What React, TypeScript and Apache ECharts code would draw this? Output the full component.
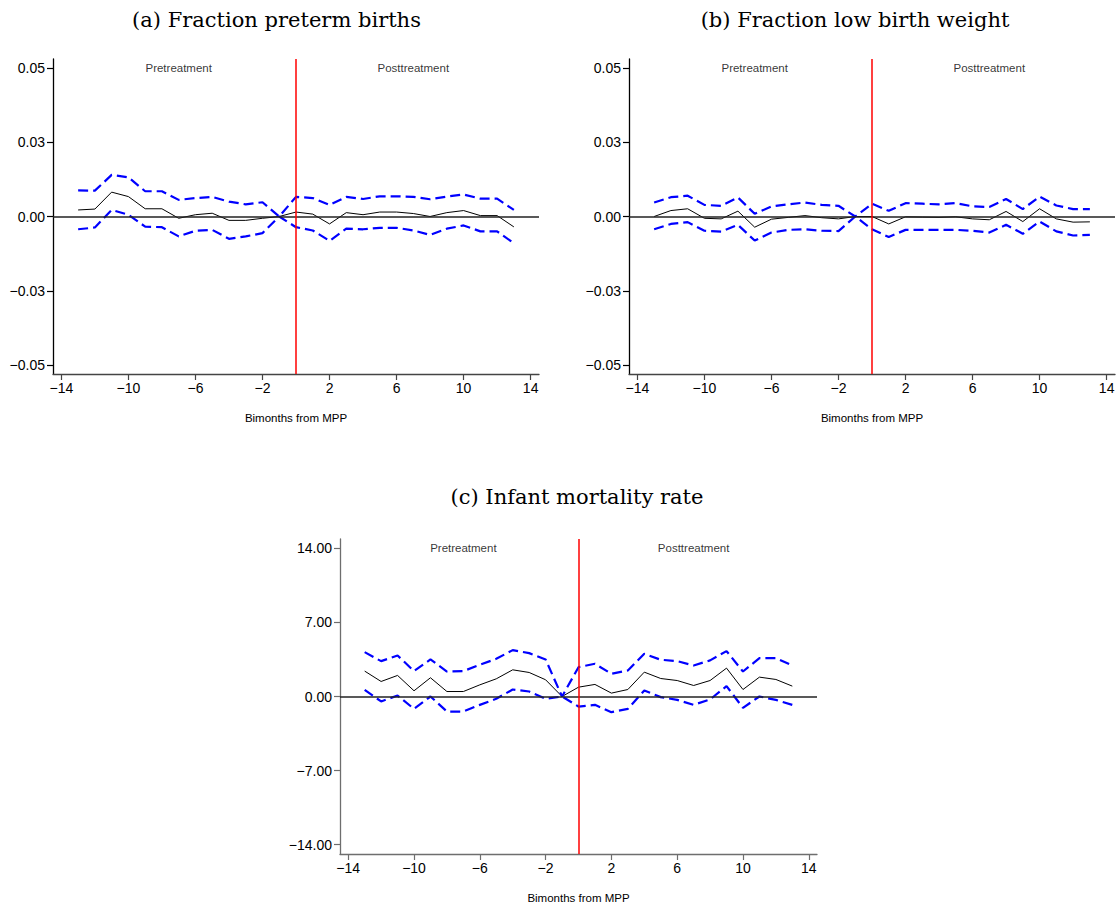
import React, { useEffect, useRef } from "react";
import * as echarts from "echarts";

const bimonths = [-13, -12, -11, -10, -9, -8, -7, -6, -5, -4, -3, -2, -1, 0, 1, 2, 3, 4, 5, 6, 7, 8, 9, 10, 11, 12, 13];

const pretermEst = [0.0022, 0.0025, 0.0082, 0.0067, 0.0026, 0.0026, -0.0006, 0.0006, 0.0011, -0.0013, -0.0013, -0.0006, 0, 0.0015, 0.0008, -0.0025, 0.0013, 0.0006, 0.0015, 0.0015, 0.001, 0, 0.0013, 0.002, 0.0003, 0.0003, -0.0035];
const pretermUpper = [0.0088, 0.0087, 0.014, 0.0132, 0.0085, 0.0085, 0.0056, 0.0062, 0.0066, 0.005, 0.0041, 0.0048, 0, 0.0066, 0.0062, 0.0039, 0.0066, 0.0059, 0.0068, 0.0068, 0.0066, 0.0058, 0.0067, 0.0074, 0.006, 0.006, 0.0022];
const pretermLower = [-0.0043, -0.0037, 0.0022, 0.0006, -0.0034, -0.0036, -0.0067, -0.0048, -0.0045, -0.0075, -0.0067, -0.0056, 0, -0.0036, -0.0047, -0.0082, -0.0041, -0.0043, -0.0038, -0.0038, -0.0047, -0.0062, -0.0041, -0.003, -0.005, -0.005, -0.009];

const lbwEst = [0, 0.002, 0.0026, -0.0006, -0.0008, 0.0018, -0.0036, -0.0009, -0.0003, 0.0003, -0.0004, -0.0008, 0, 0, -0.0025, -0.0001, -0.0002, -0.0003, -0.0001, -0.0008, -0.0011, 0.0017, -0.0017, 0.0026, -0.0008, -0.0019, -0.0018];
const lbwUpper = [0.0047, 0.0065, 0.007, 0.0039, 0.0036, 0.0064, 0.0009, 0.0034, 0.0041, 0.0047, 0.0039, 0.0036, 0, 0.0043, 0.0019, 0.0045, 0.0043, 0.0041, 0.0045, 0.0034, 0.0032, 0.0059, 0.0025, 0.0067, 0.0037, 0.0025, 0.0025];
const lbwLower = [-0.0043, -0.0025, -0.0019, -0.0048, -0.0051, -0.0028, -0.0081, -0.0054, -0.0045, -0.0043, -0.0048, -0.0049, 0, -0.0043, -0.0069, -0.0045, -0.0045, -0.0045, -0.0045, -0.0048, -0.0054, -0.0028, -0.0058, -0.0017, -0.005, -0.0064, -0.0062];

const imrEst = [2.4, 1.42, 1.99, 0.54, 1.77, 0.47, 0.47, 1.1, 1.67, 2.52, 2.27, 1.58, 0, 0.88, 1.14, 0.32, 0.66, 2.3, 1.7, 1.51, 1.04, 1.51, 2.68, 0.66, 1.83, 1.61, 0.98];
const imrUpper = [4.19, 3.34, 3.88, 2.4, 3.5, 2.36, 2.4, 3.0, 3.56, 4.38, 4.1, 3.5, 0, 2.77, 3.09, 2.14, 2.46, 4.04, 3.47, 3.34, 2.93, 3.41, 4.29, 2.36, 3.63, 3.63, 2.93];
const imrLower = [0.63, -0.47, 0.09, -1.17, 0, -1.42, -1.42, -0.79, -0.22, 0.66, 0.47, -0.22, 0, -0.95, -0.79, -1.48, -1.17, 0.57, -0.06, -0.32, -0.79, -0.28, 0.98, -1.07, 0, -0.32, -0.79];

const xTicks = [-14, -10, -6, -2, 2, 6, 10, 14];
const fracTicks = [-0.05, -0.025, 0, 0.025, 0.05];
const imrTicks = [-14, -7, 0, 7, 14];

const annotationLabels = ["Pretreatment", "Posttreatment"];
const annotationX = [-7, 7];
const panelTitles = ["(a) Fraction preterm births", "(b) Fraction low birth weight", "(c) Infant mortality rate"];
const xAxisTitle = "Bimonths from MPP";

const fmt = (v: number) => {
  const s = v.toFixed(2);
  return s.replace("-", "\u2212");
};

export default function App() {
  const ref = useRef<HTMLDivElement>(null);
  useEffect(() => {
    if (!ref.current) return;
    const chart = echarts.init(ref.current, null, { renderer: "svg" });
    const sans = "Liberation Sans, Arial, sans-serif";
    const panels = [
      { est: pretermEst, up: pretermUpper, lo: pretermLower, ticks: fracTicks, lim: 0.053, annY: 0.05, axisCol: "#000", xCol: "#444",
        grid: { left: 53, top: 59, width: 486, height: 315 } },
      { est: lbwEst, up: lbwUpper, lo: lbwLower, ticks: fracTicks, lim: 0.053, annY: 0.05, axisCol: "#000", xCol: "#444",
        grid: { left: 629, top: 59, width: 486, height: 315 } },
      { est: imrEst, up: imrUpper, lo: imrLower, ticks: imrTicks, lim: 14.88, annY: 14, axisCol: "#6e6e6e", xCol: "#6e6e6e",
        grid: { left: 340, top: 539, width: 477, height: 315 } },
    ];
    const grids: any[] = [];
    const xAxes: any[] = [];
    const yAxes: any[] = [];
    const series: any[] = [];
    panels.forEach((p, i) => {
      grids.push({ ...p.grid, outerBoundsMode: "none", containLabel: false });
      xAxes.push({
        gridIndex: i, type: "value", min: -14.5, max: 14.5,
        axisLine: { show: true, onZero: false, lineStyle: { color: p.xCol, width: 1.3 } },
        axisTick: { show: true, length: 6, customValues: xTicks, lineStyle: { color: p.xCol, width: 1.2 } },
        axisLabel: { show: true, customValues: xTicks, margin: 7, fontFamily: sans, fontSize: 14, color: "#000",
          formatter: (v: number) => String(v).replace("-", "\u2212") },
        splitLine: { show: false },
        name: xAxisTitle, nameLocation: "middle", nameGap: 38,
        nameTextStyle: { fontFamily: sans, fontSize: 11.5, color: "#000" },
      });
      yAxes.push({
        gridIndex: i, type: "value", min: -p.lim, max: p.lim,
        axisLine: { show: true, onZero: false, lineStyle: { color: p.axisCol, width: 1.3 } },
        axisTick: { show: true, length: 6, customValues: p.ticks, lineStyle: { color: p.axisCol, width: 1.2 } },
        axisLabel: { show: true, customValues: p.ticks, margin: 8, fontFamily: sans, fontSize: 14, color: "#000", formatter: fmt },
        splitLine: { show: false },
      });
      series.push({
        type: "line", xAxisIndex: i, yAxisIndex: i, symbol: "none", z: 4,
        data: bimonths.map((x, k) => [x, p.up[k]]),
        lineStyle: { color: "#0000ff", width: 2.2, type: [10, 5] },
      });
      series.push({
        type: "line", xAxisIndex: i, yAxisIndex: i, symbol: "none", z: 4,
        data: bimonths.map((x, k) => [x, p.lo[k]]),
        lineStyle: { color: "#0000ff", width: 2.2, type: [10, 5] },
      });
      series.push({
        type: "line", xAxisIndex: i, yAxisIndex: i, symbol: "none", z: 3,
        data: bimonths.map((x, k) => [x, p.est[k]]),
        lineStyle: { color: "#000", width: 1 },
        markLine: {
          silent: true, symbol: ["none", "none"], label: { show: false }, animation: false,
          data: [
            { yAxis: 0, lineStyle: { color: "#222", width: 1.5, type: "solid" } },
            { xAxis: 0, lineStyle: { color: "#ff0000", width: 1.5, type: "solid" } },
          ],
        },
      });
      series.push({
        type: "scatter", xAxisIndex: i, yAxisIndex: i, symbolSize: 0, silent: true,
        data: annotationX.map((x, k) => ({ value: [x, p.annY], name: annotationLabels[k] })),
        label: { show: true, position: "inside", formatter: (d: any) => d.name, fontFamily: sans, fontSize: 11.5, color: "#000" },
      });
    });
    const titlePos = [[276.5, 20], [855, 20], [577, 497]];
    const graphic = panelTitles.map((t, i) => ({
      type: "text", x: titlePos[i][0], y: titlePos[i][1],
      style: { text: t, fontFamily: "DejaVu Serif", fontSize: 21, fill: "#000", textAlign: "center", textVerticalAlign: "middle" },
    }));
    chart.setOption({
      animation: false,
      backgroundColor: "#fff",
      grid: grids, xAxis: xAxes, yAxis: yAxes, series, graphic,
    });
    return () => chart.dispose();
  }, []);
  return <div ref={ref} style={{ position: "fixed", left: 0, top: 0, width: 1117, height: 905 }} />;
}
